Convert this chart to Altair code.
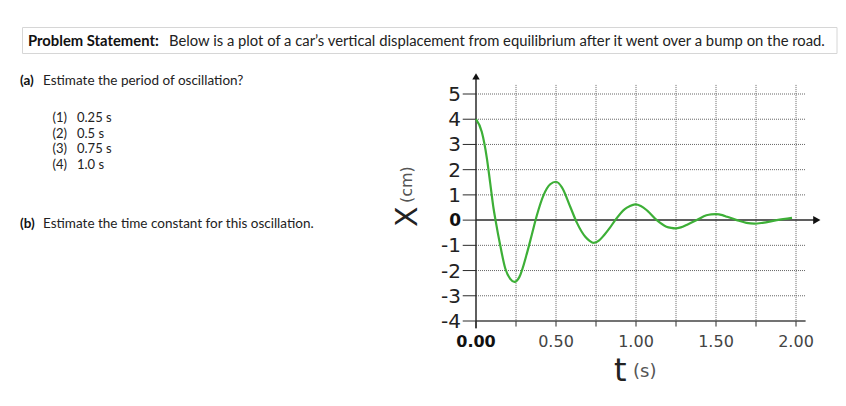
import altair as alt
import pandas as pd

# ---- data ----
t_s = [0.0, 0.036, 0.068, 0.089, 0.11, 0.122, 0.152, 0.183, 0.214, 0.241, 0.27,
       0.319, 0.35, 0.381, 0.423, 0.464, 0.5, 0.537, 0.589, 0.631, 0.683, 0.71,
       0.735, 0.77, 0.80, 0.835, 0.87, 0.93, 0.96, 0.995, 1.03, 1.07, 1.13, 1.19,
       1.22, 1.245, 1.28, 1.32, 1.38, 1.44, 1.47, 1.50, 1.54, 1.57, 1.63, 1.69,
       1.74, 1.79, 1.88, 1.975]
x_cm = [4.0, 3.5, 2.45, 1.46, 0.45, 0.0, -1.02, -1.92, -2.33, -2.45, -2.27,
        -1.30, -0.55, 0.20, 1.00, 1.42, 1.52, 1.30, 0.53, -0.11, -0.66, -0.82,
        -0.90, -0.80, -0.60, -0.32, 0.0, 0.44, 0.55, 0.62, 0.56, 0.38, 0.0, -0.26,
        -0.31, -0.33, -0.29, -0.18, 0.0, 0.19, 0.23, 0.24, 0.20, 0.13, 0.0, -0.11,
        -0.14, -0.11, 0.0, 0.09]

y_tick_vals = [-4, -3, -2, -1, 0, 1, 2, 3, 4, 5]
y_tick_labels = ["-4", "-3", "-2", "-1", "0", "1", "2", "3", "4", "5"]
x_grid_vals = [0.25, 0.5, 0.75, 1.0, 1.25, 1.5, 1.75, 2.0]
x_label_vals = [0.0, 0.5, 1.0, 1.5, 2.0]
x_label_text = ["0.00", "0.50", "1.00", "1.50", "2.00"]

title_bold = "Problem Statement:"
title_rest = "Below is a plot of a car\u2019s vertical displacement from equilibrium after it went over a bump on the road."
qa_bold = "(a)"
qa_text = "Estimate the period of oscillation?"
qa_option_nums = ["(1)", "(2)", "(3)", "(4)"]
qa_option_vals = ["0.25 s", "0.5 s", "0.75 s", "1.0 s"]
qb_bold = "(b)"
qb_text = "Estimate the time constant for this oscillation."
y_title_main, y_title_unit = "X", "(cm)"
x_title_main, x_title_unit = "t", "(s)"

# ---- tables ----
curve_df = pd.DataFrame({"t": t_s, "x": x_cm})
ytick_df = pd.DataFrame({"v": y_tick_vals, "lbl": y_tick_labels})
xgrid_df = pd.DataFrame({"t": x_grid_vals})
xtick_df = pd.DataFrame({"t": [0.0] + x_grid_vals})
xlab_df = pd.DataFrame({"t": x_label_vals, "lbl": x_label_text})
one = pd.DataFrame({"k": [0]})

xs = alt.Scale(domain=[0, 2], nice=False, zero=False)
ys = alt.Scale(domain=[-4, 5], nice=False, zero=False)
GRID = "#666666"
AX = "#2a2a2a"


def X(f):
    return alt.X(f, type="quantitative", scale=xs, axis=None)


def Y(f):
    return alt.Y(f, type="quantitative", scale=ys, axis=None)


# vertical dotted grid
vgrid = alt.Chart(xgrid_df).transform_calculate(top="5.36", bot="-4").mark_rule(
    color=GRID, strokeWidth=1, strokeDash=[1, 1]
).encode(x=X("t"), y=Y("top"), y2="bot:Q")

# horizontal dotted grid (skip 0 and -4 which are solid)
hgrid = alt.Chart(ytick_df).transform_filter("datum.v != 0 && datum.v != -4").transform_calculate(
    a="0", b="2.06").mark_rule(color=GRID, strokeWidth=1, strokeDash=[1, 1]).encode(
    x=X("a"), x2="b:Q", y=Y("v"))

# y ticks (solid, left of the axis)
yticks = alt.Chart(ytick_df).transform_calculate(a="-0.083", b="0").mark_rule(
    color=AX, strokeWidth=1).encode(x=X("a"), x2="b:Q", y=Y("v"))

# x ticks (solid, below the bottom line)
xticks = alt.Chart(xtick_df).transform_calculate(a="-4", b="datum.t == 0 ? -4.29 : -4.22").mark_rule(
    color=AX, strokeWidth=1).encode(x=X("t"), y=Y("a"), y2="b:Q")

# bottom solid line at -4
bottom = alt.Chart(one).transform_calculate(a="0", b="2.06", v="-4").mark_rule(
    color="#444", strokeWidth=1.5).encode(x=X("a"), x2="b:Q", y=Y("v"))

# x axis at 0 with arrow
xaxis = alt.Chart(one).transform_calculate(a="0", b="2.12", v="0").mark_rule(
    color=AX, strokeWidth=1.5).encode(x=X("a"), x2="b:Q", y=Y("v"))
xarrow = alt.Chart(one).transform_calculate(a="2.13", v="0").mark_point(
    shape="triangle-right", filled=True, size=70, color="#111", opacity=1).encode(x=X("a"), y=Y("v"))

# y axis with arrow
yaxis = alt.Chart(one).transform_calculate(a="0", b="-4.29", v="5.62").mark_rule(
    color=AX, strokeWidth=1.5).encode(x=X("a"), y=Y("b"), y2="v:Q")
yarrow = alt.Chart(one).transform_calculate(a="0", v="5.7").mark_point(
    shape="triangle-up", filled=True, size=55, color="#111", opacity=1).encode(x=X("a"), y=Y("v"))

# curve
curve = alt.Chart(curve_df).mark_line(color="#3daf37", strokeWidth=2.2, interpolate="monotone").encode(
    x=X("t"), y=Y("x"))

# y labels
ylab = alt.Chart(ytick_df).transform_filter("datum.v != 0").transform_calculate(a="0").mark_text(
    align="right", baseline="middle", dx=-15, dy=1, font="DejaVu Sans", fontSize=20, color="#222"
).encode(x=X("a"), y=Y("v"), text="lbl:N")
ylab0 = alt.Chart(ytick_df).transform_filter("datum.v == 0").transform_calculate(a="0").mark_text(
    align="right", baseline="middle", dx=-15, dy=1, font="DejaVu Sans", fontSize=17, fontWeight="bold",
    color="#111").encode(x=X("a"), y=Y("v"), text="lbl:N")

# x labels
xlab = alt.Chart(xlab_df).transform_filter("datum.t != 0").transform_calculate(v="-4").mark_text(
    align="center", baseline="middle", dy=21, font="DejaVu Sans", fontSize=16, color="#444"
).encode(x=X("t"), y=Y("v"), text="lbl:N")
xlab0 = alt.Chart(xlab_df).transform_filter("datum.t == 0").transform_calculate(v="-4").mark_text(
    align="center", baseline="middle", dy=21, font="DejaVu Sans", fontSize=16, fontWeight="bold",
    color="#111").encode(x=X("t"), y=Y("v"), text="lbl:N")

# axis titles (pixel positions relative to plot origin)
ytitle1 = alt.Chart(one).mark_text(text=y_title_main, x=-59, y=133, angle=270, align="left",
                                   baseline="alphabetic", font="DejaVu Sans", fontSize=30, color="#222")
ytitle2 = alt.Chart(one).mark_text(text=y_title_unit, x=-64, y=109, angle=270, align="left",
                                   baseline="alphabetic", font="DejaVu Sans", fontSize=16, color="#555")
xtitle1 = alt.Chart(one).mark_text(text=x_title_main, x=138, y=287, align="left",
                                   baseline="alphabetic", font="DejaVu Sans", fontSize=32, color="#222")
xtitle2 = alt.Chart(one).mark_text(text=x_title_unit, x=157, y=283, align="left",
                                   baseline="alphabetic", font="DejaVu Sans", fontSize=18, color="#555")

# problem statement box and text
OX, OY = 476, 94  # page position of the plot origin
box = alt.Chart(one).mark_rect(x=22.5 - OX, x2=837 - OX, y=27.5 - OY, y2=53.5 - OY,
                               fill="white", stroke="#d6d6d6", strokeWidth=1)
tb = alt.Chart(one).mark_text(text=title_bold, x=28 - OX, y=46 - OY, align="left", baseline="alphabetic",
                              font="Lato", fontSize=14.8, fontWeight="bold", color="#111")
tr = alt.Chart(one).mark_text(text=title_rest, x=169 - OX, y=46 - OY, align="left", baseline="alphabetic",
                              font="Lato", fontSize=14.8, color="#222")

qa1 = alt.Chart(one).mark_text(text=qa_bold, x=20 - OX, y=85 - OY, align="left", baseline="alphabetic",
                               font="Lato", fontSize=13.5, fontWeight="bold", color="#111")
qa2 = alt.Chart(one).mark_text(text=qa_text, x=43 - OX, y=85 - OY, align="left", baseline="alphabetic",
                               font="Lato", fontSize=13.5, color="#222")
opt_layers = []
for i, (n, s) in enumerate(zip(qa_option_nums, qa_option_vals)):
    yy = 122 + i * 15.5 - OY
    opt_layers.append(alt.Chart(one).mark_text(text=n, x=52.5 - OX, y=yy, align="left",
                                               baseline="alphabetic", font="Lato", fontSize=13, color="#222"))
    opt_layers.append(alt.Chart(one).mark_text(text=s, x=77 - OX, y=yy, align="left",
                                               baseline="alphabetic", font="Lato", fontSize=13, color="#222"))
qb1 = alt.Chart(one).mark_text(text=qb_bold, x=20 - OX, y=228 - OY, align="left", baseline="alphabetic",
                               font="Lato", fontSize=13.5, fontWeight="bold", color="#111")
qb2 = alt.Chart(one).mark_text(text=qb_text, x=43 - OX, y=228 - OY, align="left", baseline="alphabetic",
                               font="Lato", fontSize=13.5, color="#222")

chart = alt.layer(
    box, tb, tr, qa1, qa2, *opt_layers, qb1, qb2,
    vgrid, hgrid, yticks, xticks, bottom, xaxis, xarrow, yaxis, yarrow,
    curve, ylab, ylab0, xlab, xlab0, ytitle1, ytitle2, xtitle1, xtitle2
).properties(
    width=320, height=227, autosize="none",
    padding={"left": 468, "top": 86, "right": 42, "bottom": 77},
    background="white"
).configure_view(stroke=None)

chart.save("out.html", embed_options={"renderer": "svg", "actions": False})
